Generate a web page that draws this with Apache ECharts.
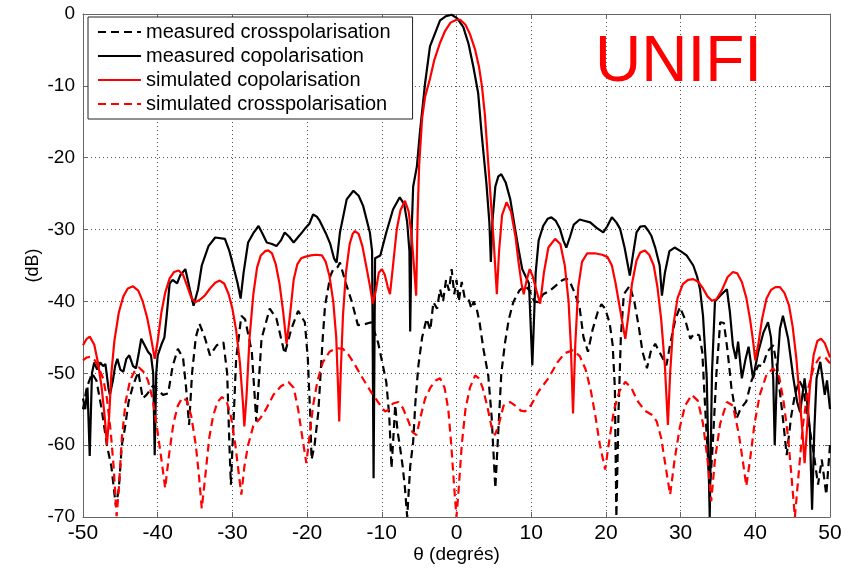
<!DOCTYPE html>
<html>
<head>
<meta charset="utf-8">
<script src="https://cdn.jsdelivr.net/npm/echarts@6/dist/echarts.min.js"></script>
<style>
html,body{margin:0;padding:0;background:#fff;}
#chart{width:858px;height:569px;}
</style>
</head>
<body>
<div id="chart"></div>
<script>
// ---- data: [theta (deg), level (dB)] ----
const xTicks = [-50,-40,-30,-20,-10,0,10,20,30,40,50];
const yTicks = [-70,-60,-50,-40,-30,-20,-10,0];
const seriesNames = ['measured crosspolarisation','measured copolarisation','simulated copolarisation','simulated crosspolarisation'];

const measuredCross = [[-50,-55],[-49.5,-52],[-48.8,-50],[-48.2,-51],[-47.5,-55],[-46.8,-60],[-46.2,-63],[-45.6,-68.5],[-45.2,-66],[-44.8,-60],[-44.4,-57.7],[-43.9,-54],[-43.3,-51.7],[-42.6,-49.8],[-42.0,-53.5],[-41.5,-53],[-40.6,-51.7],[-40.0,-52.3],[-39.3,-53],[-38.6,-52.8],[-38.0,-49],[-37.3,-46.6],[-36.6,-47.9],[-36.2,-52],[-35.8,-57.2],[-35.4,-50],[-34.9,-45],[-34.4,-43.1],[-33.7,-45],[-33.0,-47.5],[-32.1,-46.1],[-31.2,-45.7],[-30.7,-50],[-30.4,-60],[-30.2,-65.5],[-29.9,-58],[-29.5,-48],[-28.8,-42],[-28.3,-42.5],[-27.8,-45],[-27.4,-47],[-26.8,-56.7],[-26.1,-45.2],[-25.0,-41],[-24.1,-42.4],[-23.0,-47.3],[-22.1,-43.8],[-21.2,-41.3],[-20.3,-42.9],[-19.9,-48],[-19.6,-55.4],[-19.4,-62],[-19.0,-60],[-18.5,-55.4],[-17.9,-45],[-17.6,-40.6],[-16.9,-36.5],[-16.5,-35.5],[-15.9,-35.2],[-15.6,-34.6],[-14.8,-37.5],[-14.0,-40.1],[-13.2,-43.3],[-12.4,-43.2],[-11.4,-42.9],[-10.5,-45.7],[-9.4,-51.2],[-9.0,-56],[-8.7,-63.2],[-8.4,-58],[-8.2,-54.4],[-7.9,-58],[-7.6,-60],[-7.2,-63],[-6.9,-66],[-6.6,-70],[-6.2,-63],[-5.8,-59.5],[-5.5,-54],[-5.1,-48.9],[-4.6,-45],[-4.0,-42.4],[-3.5,-44],[-3.1,-40.1],[-2.6,-41],[-2.2,-38.3],[-1.8,-40],[-1.4,-37],[-1.0,-38.5],[-0.65,-35.5],[-0.3,-39],[0.0,-37],[0.3,-40],[0.7,-37.3],[1.1,-39.5],[1.6,-39.6],[2.0,-41],[2.3,-40],[2.7,-41],[3.1,-43],[3.6,-46.6],[4.25,-50.3],[4.7,-56],[5.2,-66],[5.6,-58],[6.0,-50],[6.5,-45.7],[7.0,-42.5],[7.6,-40.1],[8.4,-38.5],[9.2,-37.8],[9.8,-38.5],[10.4,-40],[10.95,-40.1],[11.6,-39],[12.5,-38.5],[13.3,-37.8],[14.1,-37.1],[14.7,-36.8],[15.2,-37.3],[15.9,-39],[16.5,-41],[17.0,-45],[17.6,-47],[18.2,-44],[18.9,-41.5],[19.4,-40.4],[19.9,-41],[20.5,-43],[20.9,-46],[21.2,-52],[21.4,-70],[21.7,-55],[22.0,-45],[22.4,-39],[23.2,-37.8],[23.8,-40],[24.4,-43.5],[24.9,-47],[25.5,-49.3],[26.0,-47],[26.6,-45.9],[27.4,-47.5],[28.1,-48.9],[28.6,-46],[29.3,-42.5],[29.9,-40.8],[30.6,-42.5],[31.3,-45.2],[31.8,-44.5],[32.5,-44.7],[32.9,-47],[33.3,-55],[33.9,-66.4],[34.3,-60],[34.8,-50],[35.3,-42.9],[35.8,-43],[36.3,-47],[36.8,-52],[37.5,-56.3],[38.0,-55],[38.8,-53.9],[39.5,-51],[40.4,-48.9],[41.0,-49],[41.6,-47],[42.4,-46.1],[42.9,-49],[43.7,-56.3],[44.2,-61.4],[44.8,-56],[45.3,-53],[45.9,-51],[46.4,-52.1],[47.0,-56],[47.8,-61],[48.4,-65.5],[48.9,-62],[49.5,-66.9],[50,-60]];

const measuredCo = [[-50,-53.5],[-49.7,-55],[-49.4,-52],[-49.1,-61.5],[-48.8,-50],[-48.5,-48.5],[-48.1,-49.5],[-47.7,-48.5],[-47.3,-49],[-47.0,-48.7],[-46.6,-52],[-46.4,-53],[-46.0,-51],[-45.7,-49],[-45.4,-48],[-45.0,-49.5],[-44.6,-49.8],[-44.2,-48],[-43.8,-47.5],[-43.3,-49],[-42.9,-49.3],[-42.5,-47],[-42.2,-45.2],[-41.8,-46],[-41.3,-47],[-40.9,-47.5],[-40.6,-50],[-40.4,-61.4],[-40.2,-50],[-40.0,-47.5],[-39.5,-46],[-39.1,-45],[-38.8,-42],[-38.4,-37.5],[-38.0,-37],[-37.4,-37.5],[-37.0,-36.4],[-36.3,-35.5],[-35.7,-38.3],[-35.2,-40.6],[-34.6,-38.3],[-34.1,-35],[-33.2,-32.3],[-32.3,-31.1],[-31.0,-31.3],[-30.4,-33],[-29.9,-35],[-29.3,-37.5],[-28.9,-39.6],[-28.5,-36],[-27.9,-31.8],[-27.2,-30.5],[-26.5,-29.5],[-26.0,-30.5],[-25.4,-31.8],[-24.7,-32],[-24.1,-32.3],[-23.5,-31.5],[-23.0,-30.4],[-22.4,-31],[-21.8,-31.8],[-21.0,-30.8],[-20.3,-29.9],[-19.7,-29.2],[-19.2,-27.9],[-18.7,-28.2],[-18.3,-28.8],[-17.5,-30.5],[-16.9,-32],[-16.4,-34],[-16.05,-34.6],[-15.6,-30.4],[-14.7,-25.8],[-13.8,-24.6],[-13.1,-25.3],[-12.5,-26.7],[-11.6,-30.4],[-11.3,-33],[-11.1,-64.6],[-10.9,-34],[-10.2,-33.6],[-9.4,-30.4],[-8.5,-27.2],[-7.6,-25.5],[-7.0,-26.5],[-6.6,-29],[-6.3,-33],[-6.2,-44.2],[-6.0,-30],[-5.8,-24],[-5.3,-21.2],[-4.9,-16.5],[-4.2,-9.6],[-3.55,-4.5],[-2.2,-0.9],[-1.4,-0.3],[-0.65,-0.1],[0.1,-0.6],[0.9,-1.8],[1.6,-4.1],[2.25,-7.3],[2.9,-11],[3.35,-16.5],[4.0,-23.5],[4.4,-29],[4.6,-34.5],[4.8,-29],[5.2,-24],[5.6,-22.6],[6.0,-22.3],[6.6,-23.5],[7.2,-25.8],[7.7,-29],[8.3,-32.7],[8.8,-35.5],[9.2,-36.4],[9.7,-37.5],[10.15,-48.9],[10.6,-36],[11.0,-31.5],[11.6,-29.5],[12.2,-28.5],[12.7,-28.3],[13.3,-28.8],[13.85,-29.9],[14.3,-31.5],[14.7,-32.5],[15.2,-31],[15.7,-29.3],[16.5,-28.6],[17.2,-28.8],[17.9,-29],[18.8,-29.8],[19.65,-30.4],[20.2,-29.5],[20.8,-28.3],[21.4,-29],[21.9,-29.9],[22.5,-32.5],[23.2,-36.4],[23.7,-33],[24.1,-30.4],[24.6,-29.6],[25.2,-29.5],[25.7,-30.2],[26.1,-30.9],[26.6,-32.5],[27.2,-35],[27.5,-39.2],[27.9,-36],[28.5,-33],[29.2,-32.5],[30.0,-33],[30.8,-33.6],[31.7,-35],[32.2,-36.5],[32.6,-38.3],[33.0,-42],[33.5,-50.7],[33.9,-70],[34.2,-50],[34.6,-40],[35.2,-39.3],[35.7,-38.8],[36.2,-38.3],[36.6,-41.5],[37.0,-46.1],[37.4,-48],[37.7,-45.6],[38.2,-50.7],[38.7,-48],[39.1,-46.3],[39.7,-50.7],[40.4,-47],[41.1,-44.3],[41.7,-42.9],[42.1,-45],[42.4,-50.7],[42.6,-60],[42.9,-50],[43.3,-43.8],[43.7,-42],[44.4,-45.2],[45.1,-50.7],[45.6,-54],[46.0,-55.4],[46.6,-50.7],[47.3,-57.7],[47.6,-69],[47.9,-58],[48.2,-50.7],[48.7,-48.4],[49.3,-53],[49.6,-51],[50,-55]];

const simulatedCo = [[-50,-46.1],[-49.5,-45.2],[-49.1,-44.9],[-48.5,-46],[-48.0,-48.5],[-47.5,-52],[-47.1,-56],[-46.8,-60],[-46.5,-56],[-46.2,-50],[-45.8,-45.5],[-45.2,-41.5],[-44.6,-39.3],[-44.0,-38.2],[-43.3,-37.9],[-42.6,-38.5],[-42.0,-40],[-41.4,-42.3],[-40.9,-45],[-40.4,-48],[-40.0,-45.5],[-39.5,-41.5],[-39.0,-38.8],[-38.4,-36.8],[-37.8,-35.9],[-37.2,-35.7],[-36.6,-36.3],[-36.0,-38],[-35.5,-39.5],[-35.0,-40.1],[-34.4,-39.8],[-33.7,-39.2],[-33.0,-38.2],[-32.3,-37.4],[-31.7,-37.1],[-31.1,-37.5],[-30.5,-39],[-30.0,-41],[-29.5,-44],[-29.0,-48.5],[-28.6,-54],[-28.4,-57.4],[-28.1,-53],[-27.7,-45],[-27.2,-39],[-26.7,-35.3],[-26.2,-33.6],[-25.6,-33],[-25.2,-32.9],[-24.7,-33.3],[-24.2,-34.8],[-23.7,-37.5],[-23.2,-41.5],[-22.75,-45.9],[-22.3,-42],[-21.8,-37],[-21.3,-34.8],[-20.8,-34],[-20.3,-33.8],[-19.5,-33.6],[-18.8,-33.5],[-18.0,-33.6],[-17.5,-34.5],[-17.0,-36.5],[-16.5,-40],[-16.1,-45],[-15.85,-52],[-15.7,-56.7],[-15.5,-50],[-15.2,-42],[-14.8,-36],[-14.3,-32],[-13.9,-30.6],[-13.6,-30.2],[-13.1,-30.6],[-12.6,-32.3],[-12.1,-35],[-11.6,-37.8],[-11.2,-40.3],[-10.8,-38.5],[-10.4,-36],[-10.0,-35.5],[-9.6,-36.3],[-9.2,-38],[-8.9,-39],[-8.5,-35],[-8.0,-30],[-7.5,-27.3],[-6.9,-26],[-6.4,-27.5],[-6.0,-31],[-5.7,-35],[-5.4,-39.2],[-5.2,-28],[-5.0,-21],[-4.6,-14.5],[-4.2,-11.5],[-3.55,-9],[-3.0,-6.5],[-2.2,-4],[-1.5,-2.3],[-0.8,-1.2],[0.0,-0.8],[0.5,-0.8],[1.2,-1.5],[1.8,-2.8],[2.5,-5],[3.0,-7.3],[3.4,-10],[3.8,-14],[4.2,-20],[4.6,-26],[5.0,-32],[5.4,-39],[5.7,-33],[6.1,-28],[6.7,-26.2],[7.3,-27.5],[7.9,-31],[8.3,-34.5],[8.7,-37.5],[9.0,-39],[9.4,-37],[9.8,-35.5],[10.2,-36.5],[10.7,-38.5],[11.2,-40.3],[11.7,-36],[12.3,-32.5],[13.2,-31.3],[13.9,-32],[14.5,-35],[15.0,-40],[15.3,-46],[15.6,-55.6],[15.9,-46],[16.3,-38],[16.8,-34.5],[17.5,-33.3],[18.5,-33.3],[19.5,-33.5],[20.2,-33.8],[20.8,-35],[21.3,-37.5],[21.8,-40.5],[22.3,-43.5],[22.6,-45.2],[23.0,-42],[23.5,-37.5],[24.1,-34.3],[24.6,-33.2],[25.2,-32.9],[25.8,-33.5],[26.4,-35],[26.9,-38],[27.4,-42.5],[27.9,-49],[28.3,-57.2],[28.6,-50],[29.0,-43.5],[29.6,-39.5],[30.3,-37.6],[31.0,-37],[31.7,-36.9],[32.4,-37.3],[33.0,-38.2],[33.6,-39.3],[34.2,-39.9],[34.8,-39.7],[35.5,-38.5],[36.3,-36.6],[37.0,-35.9],[37.6,-36.1],[38.2,-37.3],[38.8,-39.5],[39.3,-42.5],[39.7,-45.5],[40.0,-48.2],[40.4,-46],[40.9,-42.5],[41.5,-39.6],[42.1,-38.4],[42.7,-38],[43.3,-38],[43.9,-38.8],[44.5,-40.5],[45.0,-43.5],[45.5,-48],[45.9,-53],[46.3,-58],[46.6,-62.5],[46.9,-58],[47.3,-52],[47.8,-47.5],[48.3,-45.5],[48.8,-45.2],[49.3,-45.8],[49.8,-47.2],[50,-47.8]];

const simulatedCross = [[-50,-48.2],[-49.5,-47.8],[-49.0,-47.7],[-48.4,-48.2],[-47.8,-49.5],[-47.3,-50.7],[-46.8,-53.5],[-46.3,-58],[-45.9,-63],[-45.5,-69.9],[-45.2,-66],[-44.8,-59],[-44.3,-54],[-43.7,-51],[-43.0,-49.5],[-42.5,-49.2],[-41.9,-49.8],[-41.3,-51],[-40.7,-53.5],[-40.1,-57.5],[-39.5,-62],[-39.0,-66],[-38.5,-61.5],[-37.9,-57],[-37.3,-54.5],[-36.7,-53.4],[-36.1,-53.8],[-35.5,-56],[-34.9,-60],[-34.5,-64],[-34.1,-68.8],[-33.7,-65],[-33.1,-59],[-32.6,-56],[-32.0,-54],[-31.4,-53.3],[-30.8,-53.8],[-30.2,-56],[-29.6,-60],[-29.2,-63.5],[-28.8,-66.9],[-28.4,-63],[-27.9,-60],[-27.2,-57.3],[-26.3,-56.3],[-25.5,-55],[-24.5,-53],[-23.5,-51.8],[-22.5,-51.2],[-21.8,-52],[-21.2,-55],[-20.7,-58.5],[-20.1,-62.5],[-19.7,-59],[-19.2,-54.5],[-18.6,-51],[-17.9,-48.5],[-17.0,-47],[-16.1,-46.5],[-15.2,-46.6],[-14.4,-47.5],[-13.5,-49],[-12.5,-50.8],[-11.5,-52.5],[-10.5,-54],[-9.6,-55.3],[-9.1,-55.1],[-8.5,-54.2],[-7.8,-54],[-7.2,-54.8],[-6.5,-56.5],[-5.9,-58.2],[-5.35,-58.6],[-4.8,-56],[-4.2,-53.5],[-3.5,-52],[-2.8,-51],[-2.2,-50.7],[-1.6,-52],[-1.1,-55],[-0.7,-60],[-0.3,-66],[0.0,-70],[0.3,-66],[0.7,-60],[1.2,-55],[1.8,-52],[2.5,-50.3],[3.0,-50.7],[3.5,-52],[4.1,-54.5],[4.7,-57.5],[5.15,-58.6],[5.7,-57],[6.3,-54.5],[7.2,-54],[8.0,-54.6],[8.6,-55.2],[9.2,-55.3],[10.0,-54.4],[11.0,-52.5],[12.3,-50.7],[13.5,-48.5],[14.5,-47.2],[15.6,-46.8],[16.5,-47.6],[17.3,-49.5],[18.0,-52.5],[18.6,-56],[19.2,-60],[19.9,-63.4],[20.5,-59],[21.1,-55],[21.8,-52.5],[22.6,-51.2],[23.4,-52],[24.2,-53.8],[25.2,-55.2],[26.2,-55.8],[26.8,-56.7],[27.4,-59],[28.0,-63],[28.6,-66.9],[29.2,-62],[29.9,-57.5],[30.6,-54.5],[31.5,-53],[32.3,-53.8],[33.0,-57],[33.6,-62],[34.1,-67.8],[34.6,-62],[35.3,-57],[36.2,-54],[37.0,-54.5],[37.8,-58.5],[38.3,-62],[38.8,-65.7],[39.3,-62],[39.9,-57],[40.6,-53],[41.5,-50.2],[42.4,-49.3],[43.2,-50.5],[43.8,-54],[44.4,-59],[44.9,-65],[45.3,-70],[45.8,-64],[46.4,-57],[47.1,-52],[47.8,-49.2],[48.6,-47.8],[49.3,-47.7],[50,-48.6]];

const annotationText = 'UNIFI';
const xAxisTitle = 'θ (degrés)';
const yAxisTitle = '(dB)';

// ---- chart ----
const chart = echarts.init(document.getElementById('chart'), null, {renderer: 'canvas'});
const FONT = 'Liberation Sans, Arial, Helvetica, sans-serif';
const frameColor = '#666';
const gridLine = {show: true, lineStyle: {color: '#555', width: 1, type: [1, 3]}};

function mkLine(name, data, color, dashed) {
  return {
    name: name, type: 'line', data: data,
    xAxisIndex: 0, yAxisIndex: 0,
    symbol: 'none', showSymbol: false, smooth: false,
    clip: true, animation: false,
    lineStyle: {color: color, width: 2.2, type: dashed ? [8, 5] : 'solid'},
    itemStyle: {color: color}
  };
}

const option = {
  backgroundColor: '#fff',
  animation: false,
  textStyle: {fontFamily: FONT},
  grid: {left: 83, right: 28, top: 14, bottom: 50, containLabel: false},
  legend: {
    show: true, orient: 'vertical', left: 88, top: 17,
    data: seriesNames,
    backgroundColor: '#fff', borderColor: '#222', borderWidth: 1,
    padding: [5, 22, 5, 9],
    itemWidth: 43, itemHeight: 14, itemGap: 4,
    itemStyle: {opacity: 0},
    textStyle: {fontSize: 20, color: '#000', fontFamily: FONT, lineHeight: 20}
  },
  xAxis: [{
    type: 'value', position: 'bottom', min: xTicks[0], max: xTicks[xTicks.length - 1], interval: 10,
    axisLine: {show: true, onZero: false, lineStyle: {color: frameColor, width: 1}},
    axisTick: {show: true, inside: true, length: 5, lineStyle: {color: frameColor}},
    axisLabel: {show: true, color: '#000', fontSize: 21, margin: 6, fontFamily: FONT},
    splitLine: gridLine,
    name: xAxisTitle, nameLocation: 'middle', nameGap: 28, nameMoveOverlap: false,
    nameTextStyle: {color: '#000', fontSize: 19, fontFamily: FONT}
  }, {
    type: 'value', position: 'top', min: xTicks[0], max: xTicks[xTicks.length - 1], interval: 10,
    axisLine: {show: true, onZero: false, lineStyle: {color: frameColor, width: 1}},
    axisTick: {show: true, inside: true, length: 5, lineStyle: {color: frameColor}},
    axisLabel: {show: false}, splitLine: {show: false}
  }],
  yAxis: [{
    type: 'value', position: 'left', min: yTicks[0], max: yTicks[yTicks.length - 1], interval: 10,
    axisLine: {show: true, onZero: false, lineStyle: {color: frameColor, width: 1}},
    axisTick: {show: true, inside: true, length: 5, lineStyle: {color: frameColor}},
    axisLabel: {show: true, color: '#000', fontSize: 19, margin: 8, fontFamily: FONT},
    splitLine: gridLine,
    name: yAxisTitle, nameLocation: 'middle', nameGap: 41, nameRotate: 90, nameMoveOverlap: false,
    nameTextStyle: {color: '#000', fontSize: 18, fontFamily: FONT}
  }, {
    type: 'value', position: 'right', min: yTicks[0], max: yTicks[yTicks.length - 1], interval: 10,
    axisLine: {show: true, onZero: false, lineStyle: {color: frameColor, width: 1}},
    axisTick: {show: true, inside: true, length: 5, lineStyle: {color: frameColor}},
    axisLabel: {show: false}, splitLine: {show: false}
  }],
  graphic: [{
    type: 'text', left: 595, top: 31, z: 100,
    style: {text: annotationText, fill: '#ff0000', fontSize: 64, fontFamily: FONT}
  }],
  series: [
    mkLine(seriesNames[0], measuredCross, '#000', true),
    mkLine(seriesNames[1], measuredCo, '#000', false),
    mkLine(seriesNames[2], simulatedCo, '#ff0000', false),
    mkLine(seriesNames[3], simulatedCross, '#ff0000', true)
  ]
};
chart.setOption(option);
</script>
</body>
</html>
